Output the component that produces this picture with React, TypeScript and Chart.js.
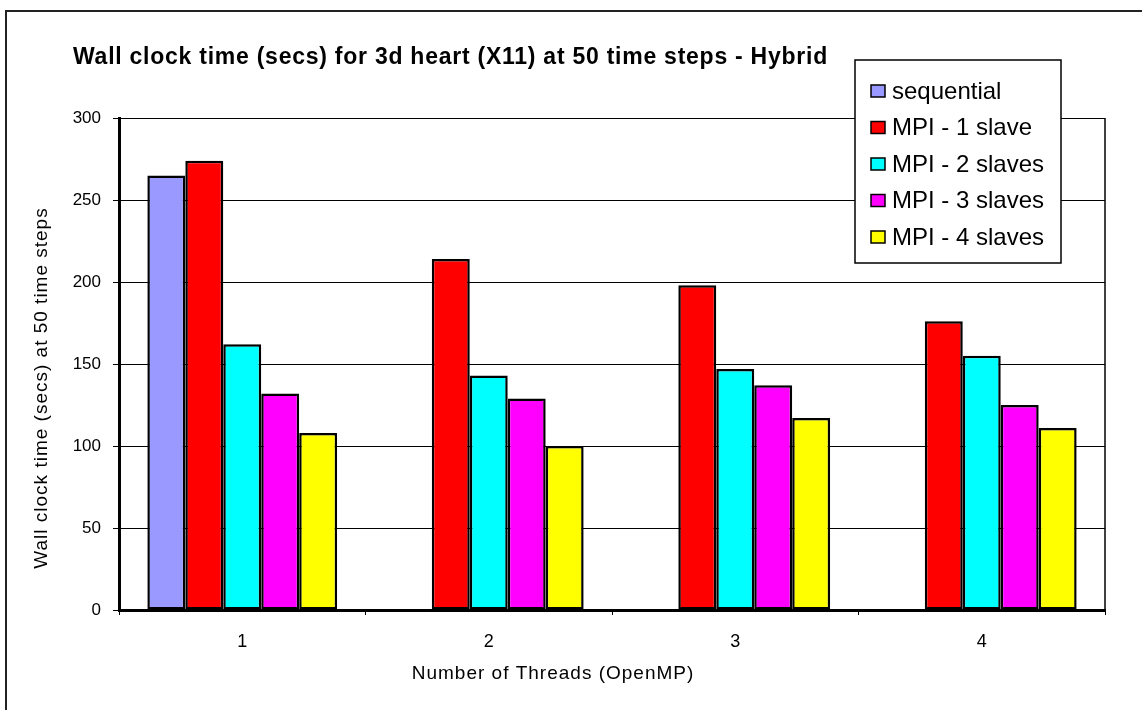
import { useEffect, useRef } from "react";
import { Chart, registerables } from "chart.js";

Chart.register(...registerables);

// Number of OpenMP threads per category
const threads = ["1", "2", "3", "4"];

// Wall clock time (secs) at 50 time steps
const sequential = [265, null, null, null];
const mpi1Slave = [274, 214, 198, 176];
const mpi2Slaves = [162, 143, 147, 155];
const mpi3Slaves = [132, 129, 137, 125];
const mpi4Slaves = [108, 100, 117, 111];

const seriesLabels = ["sequential", "MPI - 1 slave", "MPI - 2 slaves", "MPI - 3 slaves", "MPI - 4 slaves"];
const seriesColors = ["#9999FF", "#FF0000", "#00FFFF", "#FF00FF", "#FFFF00"];

const titleText = "Wall clock time (secs) for 3d heart (X11) at 50 time steps - Hybrid";
const yTitleText = "Wall clock time (secs) at 50 time steps";
const xTitleText = "Number of Threads (OpenMP)";

const FONT = '"Liberation Sans", Arial, sans-serif';

const decorations = {
  id: "decorations",
  beforeDraw(chart: any) {
    const { ctx, width, height } = chart;
    ctx.save();
    ctx.fillStyle = "#fff";
    ctx.fillRect(0, 0, width, height);
    ctx.restore();
  },
  afterDraw(chart: any) {
    const { ctx, chartArea, width, height } = chart;
    ctx.save();

    // outer frame (left and top edges)
    ctx.strokeStyle = "#222";
    ctx.lineWidth = 2;
    ctx.beginPath();
    ctx.moveTo(6, height);
    ctx.lineTo(6, 11);
    ctx.lineTo(width, 11);
    ctx.stroke();

    // right edge of the plot area
    ctx.strokeStyle = "#000";
    ctx.lineWidth = 1.5;
    ctx.beginPath();
    ctx.moveTo(chartArea.right, chartArea.top);
    ctx.lineTo(chartArea.right, chartArea.bottom);
    ctx.stroke();

    // chart title
    ctx.fillStyle = "#000";
    ctx.font = `bold 23px ${FONT}`;
    (ctx as any).letterSpacing = "0.75px";
    ctx.textAlign = "left";
    ctx.textBaseline = "middle";
    ctx.fillText(titleText, 73, 58);

    // axis titles
    ctx.font = `19px ${FONT}`;
    (ctx as any).letterSpacing = "1px";
    ctx.textAlign = "center";
    ctx.fillText(xTitleText, 553, 674);
    ctx.save();
    ctx.translate(42, 388);
    ctx.rotate(-Math.PI / 2);
    ctx.fillText(yTitleText, 0, 0);
    ctx.restore();
    (ctx as any).letterSpacing = "0px";

    // legend box
    const lx = 855, ly = 60, lw = 206, lh = 203;
    ctx.fillStyle = "#fff";
    ctx.fillRect(lx, ly, lw, lh);
    ctx.strokeStyle = "#000";
    ctx.lineWidth = 1.5;
    ctx.strokeRect(lx, ly, lw, lh);
    ctx.font = `24px ${FONT}`;
    ctx.textAlign = "left";
    ctx.textBaseline = "middle";
    chart.data.datasets.forEach((ds: any, i: number) => {
      const cy = 91 + i * 36.5;
      ctx.fillStyle = ds.backgroundColor;
      ctx.fillRect(871, cy - 6, 14, 12);
      ctx.strokeStyle = "#000";
      ctx.lineWidth = 1.5;
      ctx.strokeRect(871, cy - 6, 14, 12);
      ctx.fillStyle = "#000";
      ctx.fillText(ds.label, 892, cy + 1);
    });

    ctx.restore();
  },
};

export default function App() {
  const canvasRef = useRef<HTMLCanvasElement | null>(null);

  useEffect(() => {
    const canvas = canvasRef.current;
    if (!canvas) return;
    const series = [sequential, mpi1Slave, mpi2Slaves, mpi3Slaves, mpi4Slaves];
    const chart = new Chart(canvas, {
      type: "bar",
      data: {
        labels: threads,
        datasets: series.map((values, i) => ({
          label: seriesLabels[i],
          data: values,
          backgroundColor: seriesColors[i],
          borderColor: "#000",
          borderWidth: 2.5,
          borderSkipped: false,
          categoryPercentage: 0.77,
          barPercentage: 1.0,
        })),
      },
      options: {
        responsive: false,
        animation: false,
        devicePixelRatio: 1,
        layout: { padding: { left: 0, top: 118, right: 37, bottom: 0 } },
        plugins: {
          legend: { display: false },
          title: { display: false },
          tooltip: { enabled: false },
        },
        scales: {
          x: {
            offset: true,
            ticks: { color: "#000", font: { family: FONT, size: 18 }, padding: 16 },
            grid: { drawOnChartArea: false, drawTicks: true, tickLength: 5, color: "#000", offset: true },
            border: { color: "#000", width: 3 },
            afterFit(scale: any) {
              scale.height = 100;
            },
          },
          y: {
            min: 0,
            max: 300,
            ticks: { stepSize: 50, color: "#000", font: { family: FONT, size: 17 }, padding: 12 },
            grid: { color: "#000", lineWidth: 1, drawTicks: true, tickLength: 6 },
            border: { color: "#000", width: 3 },
            afterFit(scale: any) {
              scale.width = 119;
            },
          },
        },
      },
      plugins: [decorations],
    });
    return () => chart.destroy();
  }, []);

  return (
    <div style={{ position: "fixed", left: 0, top: 0, width: 1142, height: 710, background: "#fff" }}>
      <canvas ref={canvasRef} width={1142} height={710} style={{ width: 1142, height: 710, display: "block" }} />
    </div>
  );
}
